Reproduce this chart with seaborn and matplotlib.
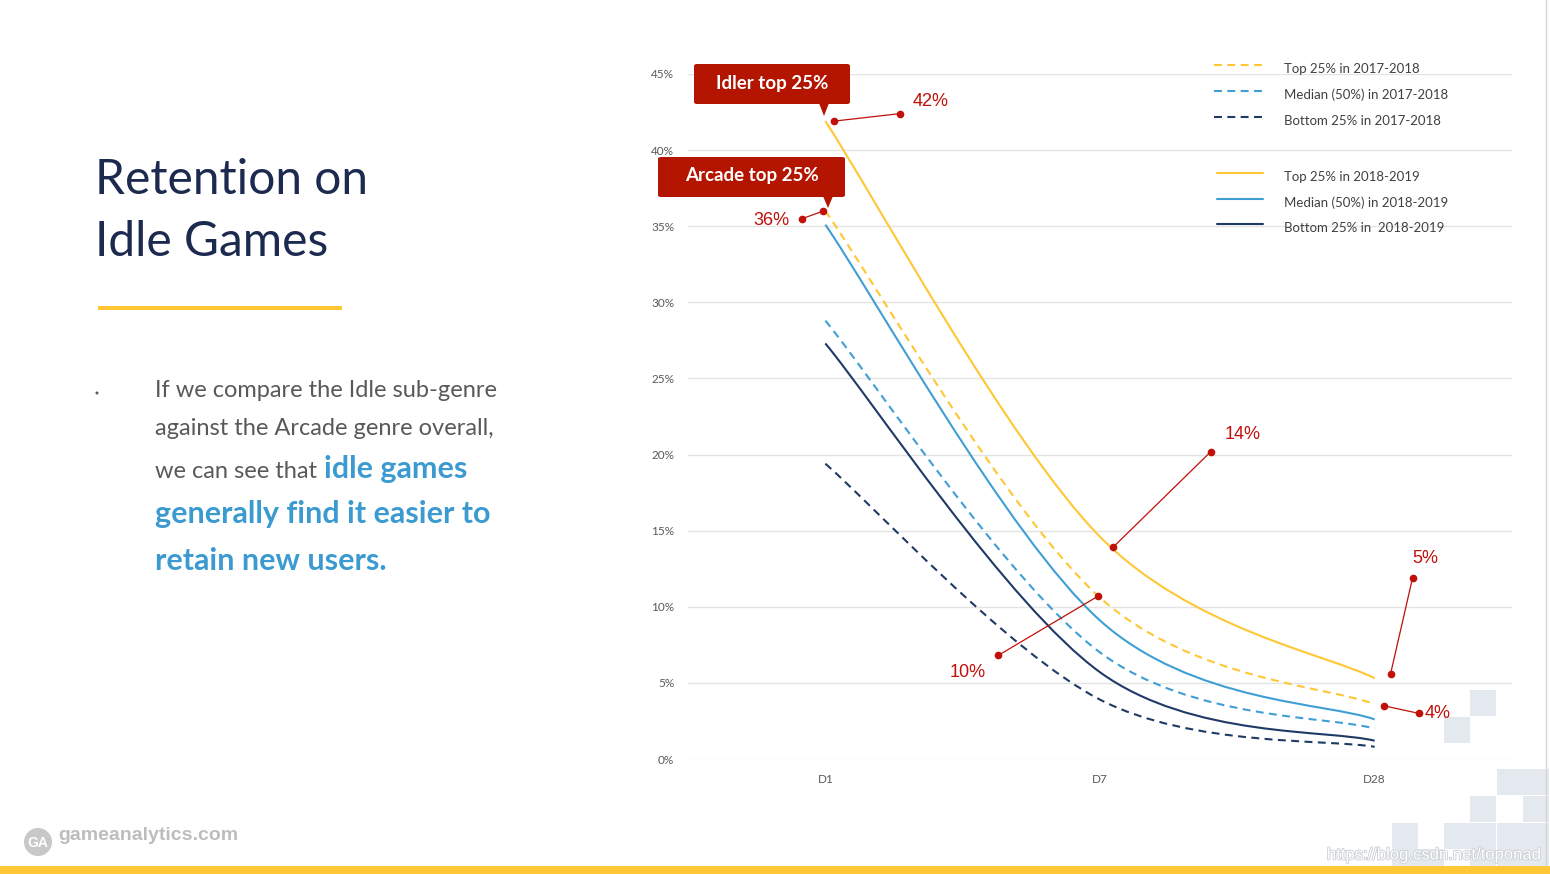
import matplotlib
matplotlib.use("Agg")

import matplotlib.patheffects as pe
import matplotlib.pyplot as plt
import numpy as np
import pandas as pd
import seaborn as sns
from matplotlib.lines import Line2D
from matplotlib.patches import Ellipse, FancyBboxPatch, PathPatch, Polygon, Rectangle
from matplotlib.path import Path

W, H = 1550, 874

# retention (%), per day
days = ["D1", "D7", "D28"]
top_2017 = [36.0, 10.6, 3.6]
median_2017 = [28.8, 7.0, 2.0]
bottom_2017 = [19.4, 3.9, 0.8]
top_2018 = [41.9, 14.6, 5.3]
median_2018 = [35.1, 9.1, 2.6]
bottom_2018 = [27.3, 5.7, 1.2]

y_ticks = [0, 5, 10, 15, 20, 25, 30, 35, 40, 45]

legend_labels = [
    "Top 25% in 2017-2018",
    "Median (50%) in 2017-2018",
    "Bottom 25% in 2017-2018",
    "Top 25% in 2018-2019",
    "Median (50%) in 2018-2019",
    "Bottom 25% in  2018-2019",
]

callout_labels = ["Idler top 25%", "Arcade top 25%"]
note_labels = ["42%", "36%", "14%", "10%", "5%", "4%"]

YELLOW = "#FFC734"
BLUE = "#3F9FD5"
NAVY = "#1F3A66"
RED = "#B31500"
NOTE_RED = "#C0100A"
GREY = "#595959"
TEXT_BLUE = "#3B9BD1"

sns.set_theme(style="white")
plt.rcParams["font.family"] = ["Lato", "DejaVu Sans"]


def fx(x):
    return x / W


def fy(y):
    return 1 - y / H


def smooth_path(xs, ys):
    # excel style smoothed line: cubic bezier through the points
    pts = np.column_stack([xs, ys]).astype(float)
    n = len(pts)
    verts = [pts[0]]
    codes = [Path.MOVETO]
    for i in range(n - 1):
        prev = pts[i - 1] if i > 0 else pts[i]
        nxt = pts[i + 2] if i + 2 < n else pts[i + 1]
        c1 = pts[i] + (pts[i + 1] - prev) / 6
        c2 = pts[i + 1] - (nxt - pts[i]) / 6
        verts += [c1, c2, pts[i + 1]]
        codes += [Path.CURVE4] * 3
    return Path(verts, codes)


df = pd.DataFrame(
    {
        "day": days * 6,
        "value": top_2017 + median_2017 + bottom_2017 + top_2018 + median_2018 + bottom_2018,
        "series": np.repeat(legend_labels, len(days)),
    }
)
dash = (0, (3.8, 2.6))
styles = {
    legend_labels[0]: (YELLOW, dash),
    legend_labels[1]: (BLUE, dash),
    legend_labels[2]: (NAVY, dash),
    legend_labels[3]: (YELLOW, "-"),
    legend_labels[4]: (BLUE, "-"),
    legend_labels[5]: (NAVY, "-"),
}

fig = plt.figure(figsize=(W / 100, H / 100), dpi=100)
ax = fig.add_axes([fx(688), fy(759), 824 / W, 685 / H])

day_pos = {d: i for i, d in enumerate(days)}
for name, grp in df.groupby("series", sort=False):
    color, ls = styles[name]
    xs = grp["day"].map(day_pos).to_numpy()
    path = smooth_path(xs, grp["value"].to_numpy())
    ax.add_patch(PathPatch(path, fill=False, edgecolor=color, lw=1.5,
                           linestyle=ls, capstyle="butt", zorder=3))

ax.set_xlim(-0.5, 2.5)
ax.set_ylim(0, 45)
ax.set_xticks(range(len(days)))
ax.set_xticklabels(days)
ax.set_yticks(y_ticks)
ax.set_yticklabels([f"{v}%" for v in y_ticks])
ax.tick_params(axis="both", length=0, labelsize=8.5, labelcolor=GREY)
ax.tick_params(axis="y", pad=10)
ax.tick_params(axis="x", pad=11)
ax.yaxis.grid(True, color="#E4E4E4", lw=1.0)
ax.xaxis.grid(False)
ax.set_axisbelow(True)
ax.set_facecolor("none")
sns.despine(ax=ax, left=True, bottom=True)

# red pointer annotations (data coords): dot on the curve -> dot near label
note_from = [(0.03, 41.9), (-0.007, 36.0), (1.047, 13.9), (0.993, 10.7), (2.058, 5.6), (2.033, 3.5)]
note_to = [(0.273, 42.4), (-0.084, 35.5), (1.404, 20.2), (0.629, 6.8), (2.138, 11.9), (2.16, 3.0)]
note_text = [(0.316, 43.2, "left"), (-0.131, 35.4, "right"), (1.455, 21.35, "left"),
             (0.52, 5.65, "center"), (2.185, 13.2, "center"), (2.182, 3.0, "left")]
for lab, a, b, t in zip(note_labels, note_from, note_to, note_text):
    ax.plot([a[0], b[0]], [a[1], b[1]], color=NOTE_RED, lw=0.9, marker="o",
            ms=4.5, mec=NOTE_RED, mfc=NOTE_RED, zorder=5, clip_on=False)
    ax.text(t[0], t[1], lab, ha=t[2], va="center", color=NOTE_RED, fontsize=13,
            family=["Liberation Sans", "DejaVu Sans"], zorder=6, clip_on=False)

# callout boxes
boxes = [((694, 64, 850, 104), (819, 829, 824, 116), (772, 83)),
         ((658, 157, 845, 197), (823, 833, 828, 208), (752, 175))]
for lab, (rect, tri, ctr) in zip(callout_labels, boxes):
    x0, y0, x1, y1 = rect
    fig.add_artist(FancyBboxPatch((fx(x0), fy(y1)), (x1 - x0) / W, (y1 - y0) / H,
                                  boxstyle="round,pad=0,rounding_size=0.002",
                                  transform=fig.transFigure, fc=RED, ec="none", zorder=10))
    fig.add_artist(Polygon([(fx(tri[0]), fy(y1) + 0.001), (fx(tri[1]), fy(y1) + 0.001),
                            (fx(tri[2]), fy(tri[3]))], closed=True,
                           transform=fig.transFigure, fc=RED, ec="none", zorder=10))
    fig.text(fx(ctr[0]), fy(ctr[1]), lab, ha="center", va="center", color="white",
             fontsize=13.5, fontweight="bold", zorder=11)

# legend, drawn by hand to keep the gap between the two periods
leg_rows = [68, 94, 120, 176, 202, 227]
for lab, yy in zip(legend_labels, leg_rows):
    color, ls = styles[lab]
    xa, xb = (1214, 1262) if ls != "-" else (1217, 1263)
    fig.add_artist(Line2D([fx(xa), fx(xb)], [fy(yy - 3), fy(yy - 3)], color=color, lw=1.5,
                          linestyle=ls, transform=fig.transFigure, dash_capstyle="butt"))
    fig.text(fx(1284), fy(yy + 5), lab, ha="left", va="baseline", color="#404040", fontsize=9.5)

# left side text
fig.text(fx(95), fy(194), "Retention on", fontsize=34.5, color="#1B2A4E", va="baseline")
fig.text(fx(95), fy(256), "Idle Games", fontsize=34.5, color="#1B2A4E", va="baseline")
fig.add_artist(Rectangle((fx(98), fy(310)), 244 / W, 4 / H, transform=fig.transFigure,
                         fc=YELLOW, ec="none"))
fig.add_artist(Ellipse((fx(97), fy(393)), 3 / W, 3 / H, transform=fig.transFigure, fc=GREY, ec="none"))

body_grey = ["If we compare the Idle sub-genre", "against the Arcade genre overall,", "we can see that"]
body_blue = ["idle games", "generally find it easier to", "retain new users."]
grey_base = [397, 435, 478]
blue_base = [478, 523, 570]
grey_txt = [fig.text(fx(155), fy(b), s, fontsize=17, color=GREY, va="baseline")
            for s, b in zip(body_grey, grey_base)]
fig.canvas.draw()
x_after = grey_txt[2].get_window_extent().x1 + 7
fig.text(x_after / W, fy(blue_base[0]), body_blue[0], fontsize=22, fontweight="bold",
         color=TEXT_BLUE, va="baseline")
for s, b in zip(body_blue[1:], blue_base[1:]):
    fig.text(fx(155), fy(b), s, fontsize=22, fontweight="bold", color=TEXT_BLUE, va="baseline")

# footer: logo, url, yellow band, pixel decoration
fig.add_artist(Ellipse((fx(38), fy(842)), 28 / W, 28 / H, transform=fig.transFigure,
                       fc="#C8C8C8", ec="none"))
fig.text(fx(38), fy(843), "GA", ha="center", va="center", color="white", fontsize=10,
         fontweight="bold", family=["Liberation Sans", "DejaVu Sans"])
fig.text(fx(58), fy(835), "gameanalytics.com", ha="left", va="center", color="#BDBDBD",
         fontsize=14, fontweight="bold", family=["Liberation Sans", "DejaVu Sans"])

cells = [(1470, 690), (1444, 717), (1497, 769), (1523, 769), (1470, 796), (1523, 796),
         (1392, 823), (1444, 823), (1470, 823), (1497, 823), (1523, 823),
         (1392, 849), (1418, 849), (1470, 849), (1497, 849), (1523, 849)]
for cx, cy in cells:
    fig.add_artist(Rectangle((fx(cx), fy(cy + 26)), 26 / W, 26 / H, transform=fig.transFigure,
                             fc="#E3E9EE", ec="none", zorder=0))
fig.add_artist(Rectangle((0, 0), 1, 8 / H, transform=fig.transFigure, fc=YELLOW, ec="none"))
fig.add_artist(Line2D([fx(1546), fx(1546)], [fy(866), 1], color="#D6D6D6", lw=1,
                      transform=fig.transFigure))
fig.text(fx(1541), fy(855), "https://blog.csdn.net/toponad", ha="right", va="center",
         color="white", fontsize=12, family=["Liberation Sans", "DejaVu Sans"],
         path_effects=[pe.withStroke(linewidth=1.2, foreground="#C9CED3")])

fig.savefig("out.png", dpi=100, facecolor="white")
